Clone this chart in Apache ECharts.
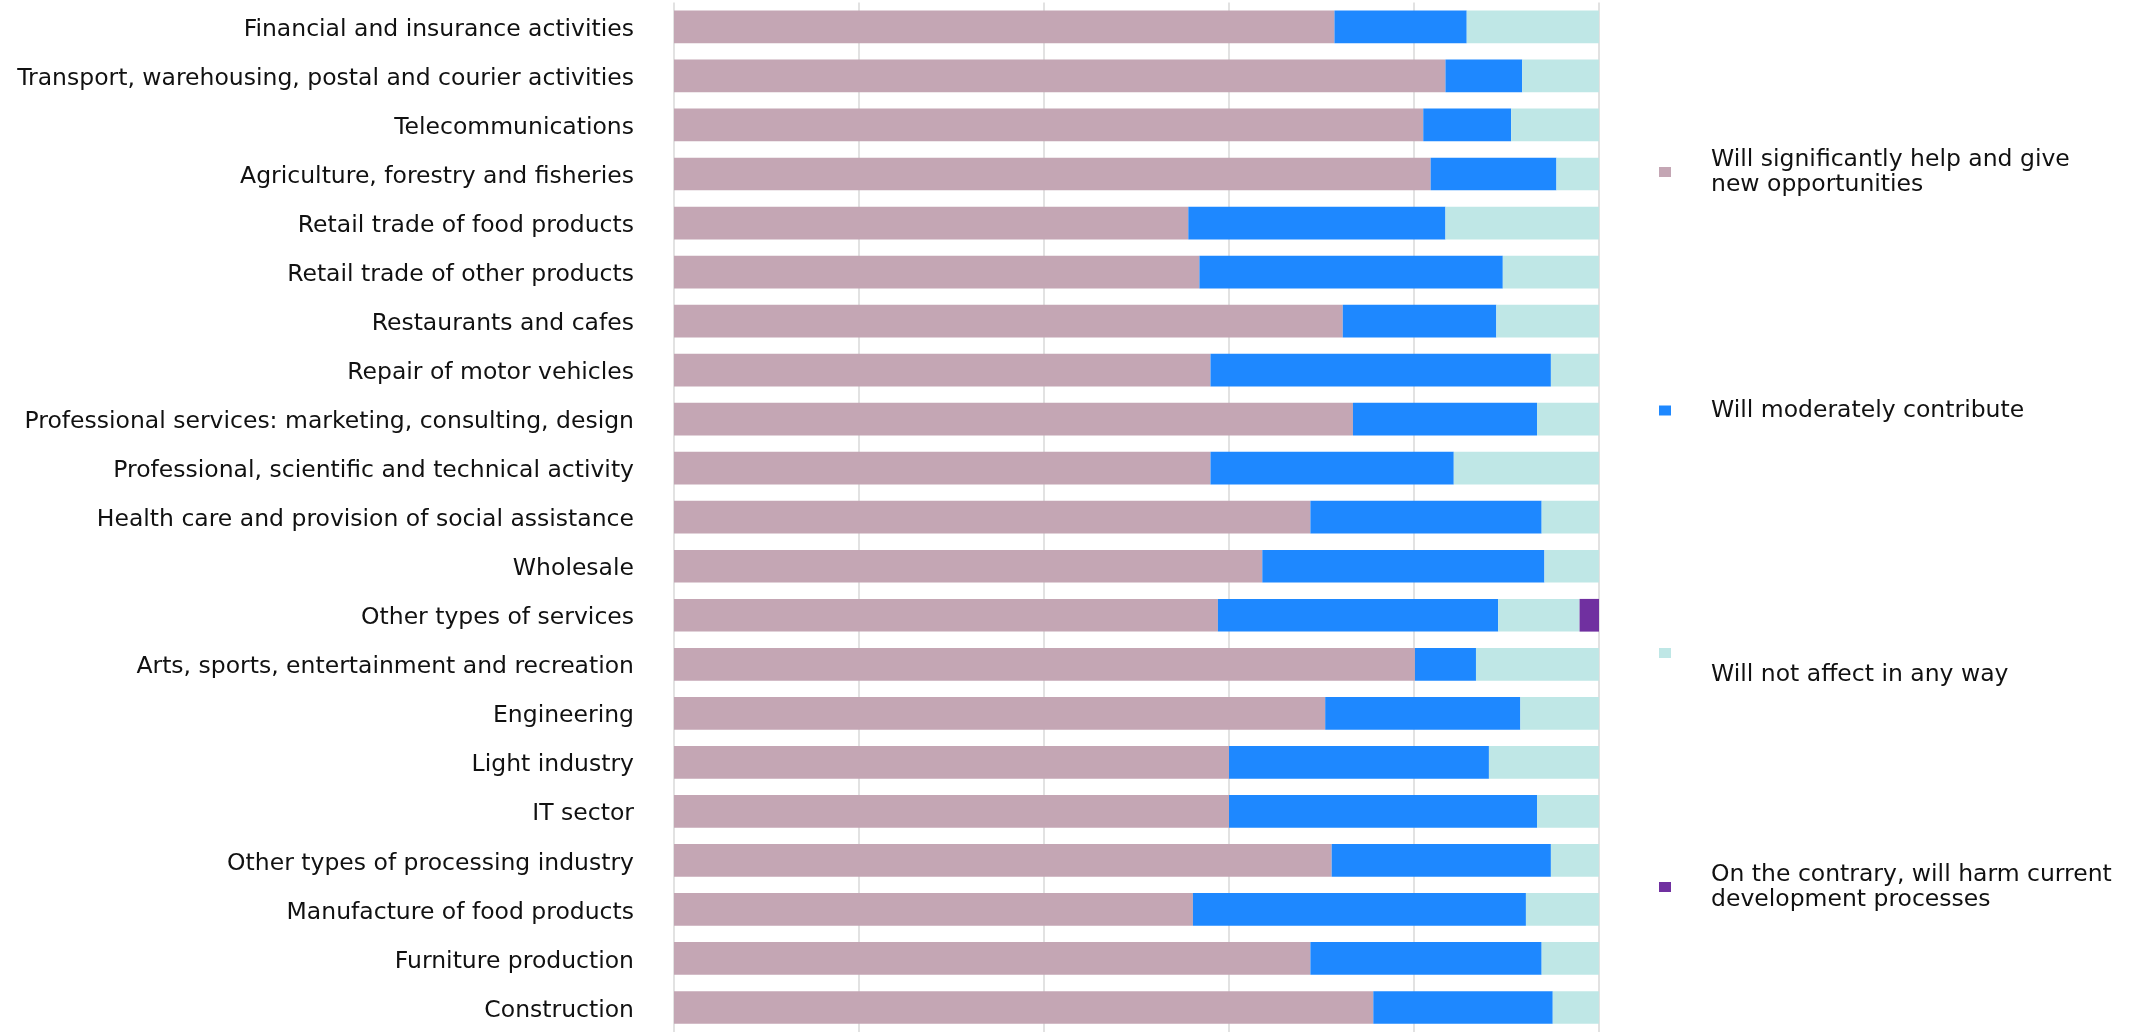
<!DOCTYPE html>
<html>
<head>
<meta charset="utf-8">
<script src="https://cdn.jsdelivr.net/npm/echarts@6/dist/echarts.min.js"></script>
<style>
  html, body { margin: 0; padding: 0; background: #fff; }
  #chart { width: 2143px; height: 1032px; }
</style>
</head>
<body>
<div id="chart"></div>
<script>
// 100% stacked horizontal bars — sectors vs expected effect

const categories = [
  'Financial and insurance activities',
  'Transport, warehousing, postal and courier activities',
  'Telecommunications',
  'Agriculture, forestry and fisheries',
  'Retail trade of food products',
  'Retail trade of other products',
  'Restaurants and cafes',
  'Repair of motor vehicles',
  'Professional services: marketing, consulting, design',
  'Professional, scientific and technical activity',
  'Health care and provision of social assistance',
  'Wholesale',
  'Other types of services',
  'Arts, sports, entertainment and recreation',
  'Engineering',
  'Light industry',
  'IT sector',
  'Other types of processing industry',
  'Manufacture of food products',
  'Furniture production',
  'Construction',
];

const seriesNames = [
  'Will significantly help and give new opportunities',
  'Will moderately contribute',
  'Will not affect in any way',
  'On the contrary, will harm current development processes',
];
const legendLabels = [
  'Will significantly help and give\nnew opportunities',
  'Will moderately contribute',
  'Will not affect in any way',
  'On the contrary, will harm current\ndevelopment processes',
];

const significant = [71.4, 83.4, 81.0, 81.8, 55.6, 56.8, 72.3, 58.0, 73.4, 58.0, 68.8, 63.6, 58.8, 80.1, 70.4, 60.0, 60.0, 71.1, 56.1, 68.8, 75.6];
const moderate    = [14.3, 8.3, 9.5, 13.6, 27.8, 32.8, 16.6, 36.8, 19.9, 26.3, 25.0, 30.5, 30.3, 6.6, 21.1, 28.1, 33.3, 23.7, 36.0, 25.0, 19.4];
const noEffect    = [14.3, 8.3, 9.5, 4.6, 16.6, 10.4, 11.1, 5.2, 6.7, 15.7, 6.2, 5.9, 8.8, 13.3, 8.5, 11.9, 6.7, 5.2, 7.9, 6.2, 5.0];
const harm        = [0, 0, 0, 0, 0, 0, 0, 0, 0, 0, 0, 0, 2.1, 0, 0, 0, 0, 0, 0, 0, 0];

const COLORS = ['#C4A6B4', '#1E88FF', '#BFE7E6', '#7030A0'];
const FONT = 'DejaVu Sans';

const chart = echarts.init(document.getElementById('chart'), null, { renderer: 'canvas' });

// one legend per item so each can sit at its own height
const legendTops = [147, 398, 619, 862];
const legends = seriesNames.map((name, i) => ({
  data: [name],
  orient: 'vertical',
  left: 1659,
  top: legendTops[i],
  padding: 0,
  itemWidth: 12,
  itemHeight: 10,
  icon: 'rect',
  selectedMode: false,
  formatter: () => i === 2 ? '{off|' + legendLabels[i] + '}' : legendLabels[i],
  textStyle: {
    fontFamily: FONT,
    fontSize: 23.5,
    lineHeight: 25,
    color: '#111',
    padding: [0, 0, 0, 35],
    rich: {
      off: { fontFamily: FONT, fontSize: 23.5, lineHeight: 25, color: '#111', padding: [44, 0, 0, 0] },
    },
  },
}));

const dataSets = [significant, moderate, noEffect, harm];

chart.setOption({
  backgroundColor: '#fff',
  animation: false,
  legend: legends,
  grid: { left: 674, right: 544, top: 2.4, height: 1034.6, containLabel: false },
  xAxis: {
    type: 'value',
    min: 0,
    max: 100,
    interval: 20,
    axisLabel: { show: false },
    axisLine: { show: false },
    axisTick: { show: false },
    splitLine: { show: true, lineStyle: { color: '#D9D9D9', width: 1.5 } },
  },
  yAxis: {
    type: 'category',
    inverse: true,
    data: categories,
    axisLine: { show: false },
    axisTick: { show: false },
    axisLabel: {
      margin: 40,
      formatter: (v) => '{c|' + v + '}',
      rich: { c: { fontFamily: FONT, fontSize: 23.5, lineHeight: 26, color: '#111', padding: [6, 0, 0, 0] } },
    },
  },
  series: seriesNames.map((name, i) => ({
    name,
    type: 'bar',
    stack: 'total',
    barWidth: 32.7,
    data: dataSets[i],
    itemStyle: { color: COLORS[i] },
  })),
});
</script>
</body>
</html>
